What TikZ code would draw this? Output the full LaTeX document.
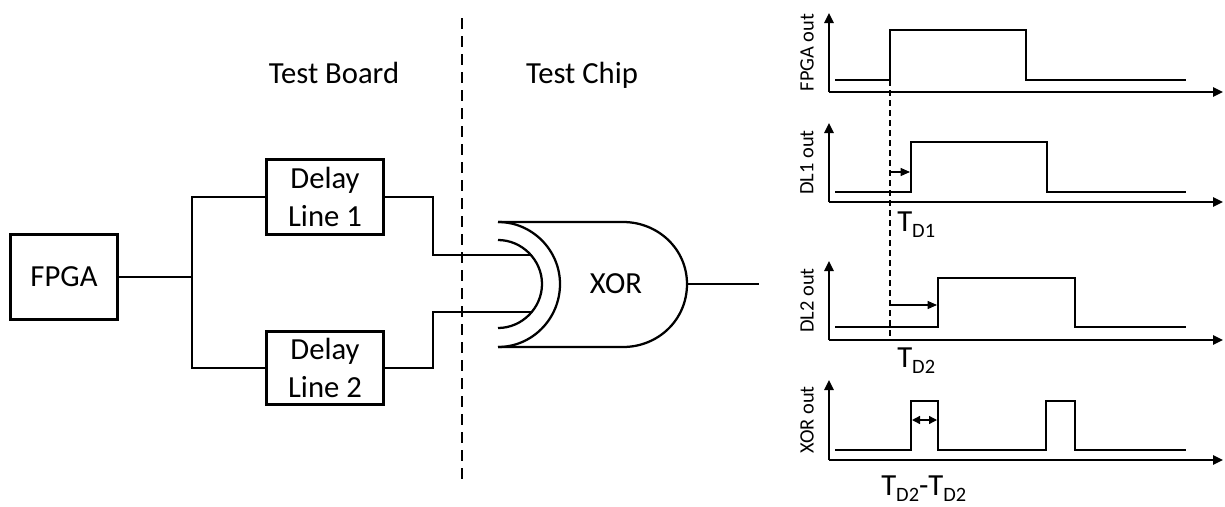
\documentclass[tikz,border=0pt]{standalone}
\usepackage{fontspec}
\setmainfont{Carlito}
\usepackage{tikz}
\usetikzlibrary{arrows.meta, positioning, calc}
\newcommand{\tdsub}[1]{\raisebox{-4.5pt}{\fontsize{15.3}{16}\selectfont #1}}
\tikzset{
  blockbox/.style={rectangle,draw,line width=2.1pt,align=center,inner sep=0pt,font=\fontsize{23}{28.5}\selectfont},
  wire/.style={line width=1.7pt},
  gateline/.style={line width=1.7pt},
  axisline/.style={line width=1.5pt,-{Triangle[length=7.5pt,width=7pt]}},
  waveline/.style={line width=2pt,line join=miter},
  delayarrow/.style={line width=0.8pt,-{Triangle[length=7pt,width=6pt]}},
  titlelabel/.style={font=\fontsize{23}{27}\selectfont,inner sep=0pt,anchor=base},
  axislabel/.style={font=\fontsize{15.3}{17}\selectfont,rotate=90,inner sep=0pt},
  timelabel/.style={font=\fontsize{23}{27}\selectfont,inner sep=0pt,anchor=base west},
}
\begin{document}
\begin{tikzpicture}[x=0.75pt,y=-0.75pt]
  \useasboundingbox (0,0) rectangle (1225,507);
  % left part
  \node[blockbox,minimum width=80pt,minimum height=64pt] (fpga) at (64,277) {FPGA};
  \node[blockbox,minimum width=88pt,minimum height=56pt] (delayone) at (325,197) {Delay\\Line 1};
  \node[blockbox,minimum width=88pt,minimum height=55pt] (delaytwo) at (325,368) {Delay\\Line 2};
  \coordinate (split) at (192,277);
  \coordinate (inone) at (532,255);
  \coordinate (intwo) at (532,312);
  \coordinate (gateout) at (687,284);
  \coordinate (xorend) at (759,284);
  \node[titlelabel] (boardlabel) at (334,83) {Test Board};
  \node[titlelabel] (chiplabel) at (582,83) {Test Chip};
  \coordinate (cuttop) at (462,18);
  \coordinate (cutbot) at (462,485);
  \draw[line width=1.5pt,dash pattern=on 8pt off 5.5pt] (cuttop)--(cutbot);
  \draw[wire] (fpga.east)--(split);
  \draw[wire] (delayone.west)-|(split);
  \draw[wire] (delaytwo.west)-|(split);
  \draw[wire] (delayone.east)-|(433,255)--(inone);
  \draw[wire] (delaytwo.east)-|(433,312)--(intwo);
  % gate
  \draw[gateline] (498,222)--(623,222) .. controls (658,222) and (687,249) .. (687,284)
        .. controls (687,320) and (658,347) .. (623,347)--(498,347);
  \draw[gateline] (498,222) .. controls (532,222) and (560,250) .. (560,284)
        .. controls (560,319) and (532,347) .. (498,347);
  \draw[gateline] (498,240) .. controls (522,240) and (542,260) .. (542,284)
        .. controls (542,308) and (522,328) .. (498,328);
  \node[titlelabel] (xorlabel) at (616,293) {XOR};
  \draw[wire] (gateout)--(xorend);
  % waveforms
  \foreach \ytop/\ybot/\name in {13/92/FPGA,123/202/DL1,261/340/DL2,380/460/XOR}{
    \draw[axisline] (829,\ybot)--(829,\ytop);
    \draw[axisline] (829,\ybot)--(1223,\ybot);
    \node[axislabel] (label\name) at (807,{(\ytop+\ybot)/2}) {\name\ out};
  }
  \draw[waveline] (835,80)--(890,80)--(890,30)--(1026,30)--(1026,80)--(1186,80);
  \draw[waveline] (835,192)--(911,192)--(911,142)--(1047,142)--(1047,192)--(1186,192);
  \draw[waveline] (835,327)--(938,327)--(938,278)--(1075,278)--(1075,327)--(1186,327);
  \draw[waveline] (835,450)--(911,450)--(911,401)--(938,401)--(938,450)--(1046,450)--(1046,401)
        --(1075,401)--(1075,450)--(1186,450);
  \draw[line width=0.8pt,dash pattern=on 4.5pt off 3pt] (890,80)--(890,337);
  \draw[delayarrow] (890,172)--(910,172);
  \draw[delayarrow] (890,305)--(937,305);
  \draw[line width=1pt,{Triangle[length=6pt,width=6pt]}-{Triangle[length=6pt,width=6pt]}] (912,420)--(937,420);
  \node[timelabel] (tdone) at (897,231) {T\tdsub{D1}};
  \node[timelabel] (tdtwo) at (897,367) {T\tdsub{D2}};
  \node[timelabel] (tdiff) at (881,495) {T\tdsub{D2}-T\tdsub{D2}};
\end{tikzpicture}
\end{document}
